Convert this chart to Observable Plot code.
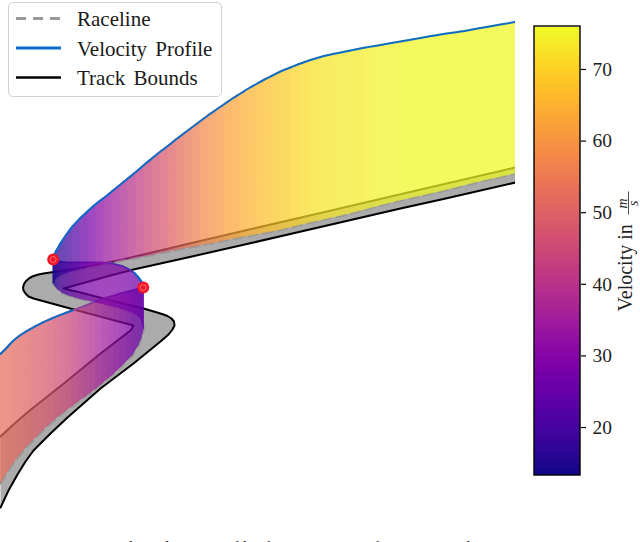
<!DOCTYPE html>
<html>
<head>
<meta charset="utf-8">
<script src="https://cdn.jsdelivr.net/npm/d3@7"></script>
<script src="https://cdn.jsdelivr.net/npm/@observablehq/plot@0.6"></script>
<style>
html,body{margin:0;padding:0;background:#fff;}
#wrap{position:relative;width:640px;height:542px;overflow:hidden;font-family:"Liberation Serif",serif;}
#wrap svg{position:absolute;top:0;left:0;background:transparent;}
#main{position:absolute;left:0;top:0;width:515px;height:542px;}
#bar{position:absolute;left:515px;top:0;width:125px;height:542px;}
#legend{position:absolute;left:8px;top:2px;width:212px;height:93px;border:1.5px solid #d2d2d2;border-radius:5px;background:#fff;z-index:3;}
#legend .t{position:absolute;left:68px;font-size:21px;line-height:24px;color:#1a1a1a;word-spacing:3px;white-space:nowrap;}
#caption{position:absolute;left:0;top:538px;width:660px;font-size:16px;line-height:20px;white-space:nowrap;color:#222;word-spacing:6px;}
</style>
</head>
<body>
<div id="wrap">
  <div id="main"></div>
  <div id="bar"></div>
  <div id="legend">
    <svg width="70" height="93" style="position:relative">
      <line x1="7" x2="52" y1="15.5" y2="15.5" stroke="#999" stroke-width="3" stroke-dasharray="10,7"/>
      <line x1="7" x2="52" y1="45" y2="45" stroke="#0d6cc8" stroke-width="3"/>
      <line x1="7" x2="52" y1="74.5" y2="74.5" stroke="#000" stroke-width="2.5"/>
    </svg>
    <div class="t" style="top:4px">Raceline</div>
    <div class="t" style="top:34px">Velocity Profile</div>
    <div class="t" style="top:63px">Track Bounds</div>
  </div>
  <div id="caption">Fig. 4. An example velocity profile for a section of a race track.</div>
</div>
<script>
// Track bounds (plot units)
const boundAX = [0,8,17,25,33,50,67,100,133,160,168,172,174,173.5,171,167,163,155,143,103,80,63,110,133,187,253,320,400,443,515];
const boundAY = [507,490,474,461,450,433,417,388,363,341,334,329,325,321,318,315.5,314,311.5,308,298,292,288,275,269,257,242,226.5,208,198.5,182];
const boundBX = [0,14,28,67,100,130,133,77,33,28,25,23,22.5,23.5,25.5,29,33,38,43,80,120,187,253,320,400,515];
const boundBY = [436,423,411,380,353,330,325,310,298,296,293,290,287,283.5,280.5,277.5,275.5,274,273,267.5,259.5,243.5,228,212.5,193.8,167];

// Leg 1: from the left edge to the first hairpin
const leg1X = [0,6,12,18,24,30,36,42,48,54,60,66,72,78,84,90,96,102,108,114,120,126,132,138,141,143.5];
const leg1Base = [483,473,464,456,449,442.5,436.5,430.5,425,419.5,414.5,410,405.5,401,397,392.5,388,383,378,373,367,361,355,345,338,328];
const leg1Top = [353.5,347.5,341,336,332,328.5,325.2,322.2,319.4,316.8,314.4,312.1,310,307.7,305.4,303,300.7,298.4,296.5,295,293,291.5,290,288.5,287.5,287];
const leg1V = [53,52.5,52,51.5,51,50,49.5,49,48,47,46,45,43.5,42,40.5,39,37.5,36,34.5,33,31.5,30,28.5,27,26,25];

// Leg 2: between the two hairpins
const leg2X = [143.5,141,138,134,128,122,116,110,104,98,92,86,80,74,68,62,58,55,53];
const leg2Base = [328,319,315.5,313,310.5,308.5,307,305.5,304,302.5,301,300,298.5,297,295,292.5,289.5,286,283];
const leg2Top = [287,281,277,272.5,268.5,265.5,264,263,262,262,262,262,262,262,262,261.5,260.5,259,257];
const leg2V = [25,25.5,26,27,28,28.5,29,29.5,29.5,29,28.5,28,27,25.5,24,22,19.5,17,14];

// Leg 3: from the second hairpin to the right edge
const leg3X = [53,56,60,66,72,80,88,96,104,112,120,128,136,144,152,160,168,176,184,192,200,208,216,224,232,240,248,256,264,272,280,290,300,310,320,335,350,365,380,400,420,440,460,480,500,515];
const leg3Base = [283,278,275,273,271,269,267,265.5,263.5,262,260.5,259,257.5,256,254.5,252.5,251,249.5,248,246.5,245,243.5,242,240,238.5,237,235.5,234,232.5,231,229.5,227,224.5,222,220,216.5,213,209,205,200,195.5,191,186,181,176.5,173];
const leg3Top = [256,250,243,234,226,217.5,210,203,197,190.5,184,177.5,171,164,157.5,151,145,138.5,132.5,126.5,120.5,114.5,109,103.5,98,93,88,83.5,79,75,71,67,63,59.5,56.5,53,50,47,44.5,41,37.5,34,31,27.5,24,21.5];
const leg3V = [14,15,17,19,21,24,27,30,33,35,37,39,41,43,45,47,49,51,53,55,57,59,60,61.5,63,64,65,66,67,68,69,70,71,72,73,73.5,74,74.5,75,75.5,76,76,76,76,76,76];

// Markers at the two lowest-speed corners
const minX = [52.7,142.7];
const minY = [259,287];

// Colour bar
const barDomain = [13.3,76];
const barTicks = [20,30,40,50,60,70];

const colorScale = {type:"linear", scheme:"plasma", domain:barDomain};
const serif = '"Liberation Serif",serif';

function points(xs,ys){return xs.map((x,i)=>({x,y:ys[i]}));}
function ribbon(xs,base,top,v){
  const rows=[];
  for(let i=0;i<xs.length-1;i++){
    const m=(v[i]+v[i+1])/2;
    rows.push({seg:i,x:xs[i],y1:base[i],y2:top[i],v:m});
    rows.push({seg:i,x:xs[i+1],y1:base[i+1],y2:top[i+1],v:m});
  }
  return rows;
}
function ribbonMark(rows){
  return Plot.areaY(rows,{x:"x",y1:"y1",y2:"y2",z:"seg",fill:"v",stroke:"v",strokeWidth:0.7,clip:true});
}
const blue="#0d6cc8";
const trackOutline = points(boundAX,boundAY).concat(points(boundBX,boundBY).reverse());
const racePts = points(leg1X,leg1Base).concat(points(leg2X,leg2Base),points(leg3X,leg3Base));

const lineOpts=(o)=>({x:"x",y:"y",clip:true,...o});
const main = Plot.plot({
  width:515,height:542,margin:0,
  x:{domain:[0,515],axis:null},
  y:{domain:[542,0],axis:null},
  color:colorScale,
  marks:[
    Plot.line(trackOutline,lineOpts({fill:"#ababab",stroke:"none"})),
    Plot.line(points(boundAX,boundAY),lineOpts({stroke:"#000",strokeWidth:2})),
    Plot.line(points(boundBX,boundBY),lineOpts({stroke:"#000",strokeWidth:2})),
    Plot.line(racePts,lineOpts({stroke:"#999",strokeWidth:2.5,strokeDasharray:"9,6"})),
    Plot.line(points(leg1X,leg1Top),lineOpts({stroke:blue,strokeWidth:1.6})),
    Plot.line(points(leg2X,leg2Top),lineOpts({stroke:blue,strokeWidth:1.6})),
    ribbonMark(ribbon(leg1X,leg1Base,leg1Top,leg1V)),
    ribbonMark(ribbon(leg2X,leg2Base,leg2Top,leg2V)),
    ribbonMark(ribbon(leg3X,leg3Base,leg3Top,leg3V)),
    Plot.line(points(leg1X,leg1Top).filter(d=>d.x<=72),lineOpts({stroke:blue,strokeWidth:2,curve:"monotone-x"})),
    Plot.line(points(leg2X,leg2Top).filter(d=>d.x>=134),lineOpts({stroke:blue,strokeWidth:2,curve:"catmull-rom"})),
    Plot.line(points(leg3X,leg3Top),lineOpts({stroke:blue,strokeWidth:2,curve:"monotone-x"})),
    Plot.dot(points(minX,minY),{x:"x",y:"y",r:6,fill:"#f21427",stroke:"none"}),
    Plot.dot(points(minX,minY),{x:"x",y:"y",r:3,fill:"none",stroke:"#f78a8a",strokeWidth:0.8})
  ]
});
// Each ribbon leg fades as one group, so its adjoining slices leave no seams
main.querySelectorAll('g[aria-label="area"]').forEach(g=>g.setAttribute("opacity","0.72"));
document.getElementById("main").append(main);

const grad = d3.range(barDomain[0]+0.15,barDomain[1]-0.1,0.125);
const bar = Plot.plot({
  width:125,height:542,marginTop:26,marginBottom:67,marginLeft:19,marginRight:60,
  style:{fontFamily:serif,overflow:"visible"},
  x:{domain:[534,580],axis:null},
  y:{domain:barDomain,axis:null},
  color:colorScale,
  marks:[
    Plot.ruleY(grad,{y:d=>d,x1:534,x2:580,stroke:d=>d,strokeWidth:2,shapeRendering:"crispEdges"}),
    Plot.rect([0],{x1:534,x2:580,y1:barDomain[0],y2:barDomain[1],fill:"none",stroke:"#000",strokeWidth:1.4}),
    Plot.axisY({anchor:"right",ticks:barTicks,tickSize:5,tickPadding:7,fontSize:19.5,fontFamily:serif,label:null,tickFormat:d=>String(d),color:"#222",stroke:"#000",strokeWidth:1.2}),
    Plot.text(["Velocity in"],{x:625,y:[42.3],text:d=>d,rotate:-90,fontSize:20,fontFamily:serif,fill:"#222"}),
    Plot.text(["m"],{x:622,y:[51.3],text:d=>d,rotate:-90,fontSize:14,fontStyle:"italic",fontFamily:serif,fill:"#222"}),
    Plot.text(["s"],{x:633,y:[51.3],text:d=>d,rotate:-90,fontSize:14,fontStyle:"italic",fontFamily:serif,fill:"#222"}),
    Plot.ruleX([628],{x:d=>d,y1:49.7,y2:52.9,stroke:"#222",strokeWidth:0.8})
  ]
});
document.getElementById("bar").append(bar);
</script>
</body>
</html>
